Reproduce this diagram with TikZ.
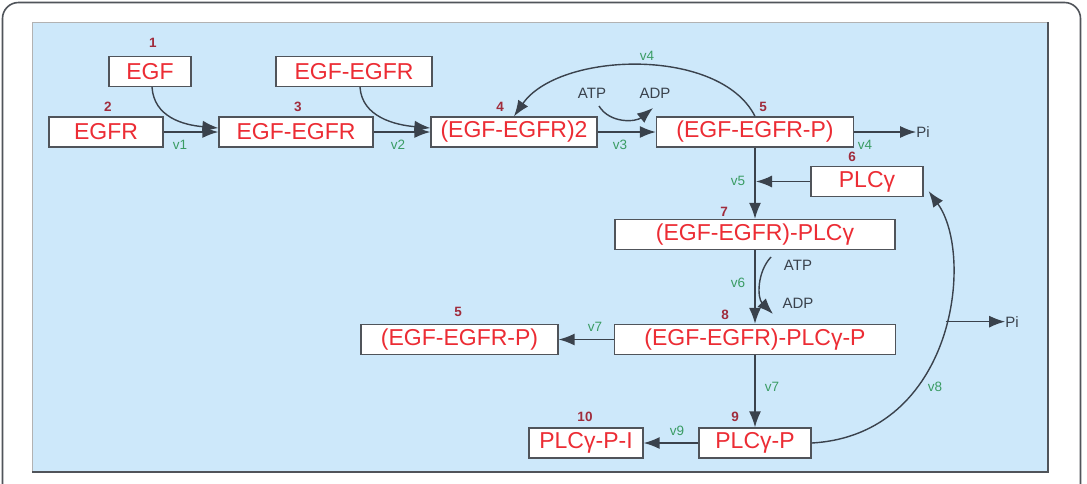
\documentclass[tikz,border=0pt]{standalone}
\usepackage{fontspec}
\setmainfont{Liberation Sans}
\usetikzlibrary{arrows.meta}
\definecolor{bgblue}{RGB}{205,232,250}
\definecolor{boxred}{RGB}{236,44,52}
\definecolor{numred}{RGB}{160,44,60}
\definecolor{vgreen}{RGB}{58,156,100}
\definecolor{linegray}{RGB}{58,66,76}
\definecolor{framegray}{RGB}{80,84,90}

\begin{document}
\begin{tikzpicture}[x=1pt,y=-1pt,
  species/.style={draw=framegray, line width=1.3pt, fill=white, text=boxred,
    font=\fontsize{23}{24}\selectfont, minimum height=30pt, inner sep=0pt},
  idx/.style={text=numred, font=\bfseries\fontsize{13.5}{14}\selectfont, inner sep=0pt},
  rate/.style={text=vgreen, font=\fontsize{13.5}{14}\selectfont, inner sep=0pt},
  small/.style={text=linegray, font=\fontsize{15}{16}\selectfont, inner sep=0pt},
  flow/.style={draw=linegray, line width=1.4pt, -{Latex[length=16pt,width=12pt]}}]
  \useasboundingbox (0,0) rectangle (1087,483);
  \clip (0,0) rectangle (1087,483);
  %% frame and background
  \fill[white] (0,0) rectangle (1087,483);
  \draw[framegray, line width=1.6pt, rounded corners=16pt] (2.5,2.5) rectangle (1080.5,520);
  \fill[bgblue] (32,22) rectangle (1048,472);
  \draw[gray!60, line width=0.8pt] (32,472) -- (32,22) -- (1048,22);
  \draw[framegray, line width=1.3pt] (32,472) -- (1048,472) -- (1048,22);
  %% species
  \node[species, minimum width=82] (egf) at (150,71.5) {EGF};
  \node[species, minimum width=156] (cplxtop) at (354,71.5) {EGF-EGFR};
  \node[species, minimum width=114] (egfr) at (106,132) {EGFR};
  \node[species, minimum width=154] (cplx) at (296,132) {EGF-EGFR};
  \node[species, minimum width=166] (dimer) at (514,132) {(EGF-EGFR)2};
  \node[species, minimum width=197] (phos) at (755,132) {(EGF-EGFR-P)};
  \node[species, minimum width=112] (plc) at (867,181.5) {PLCγ};
  \node[species, minimum width=280] (cplxplc) at (755,234.5) {(EGF-EGFR)-PLCγ};
  \node[species, minimum width=281] (cplxplcp) at (755,339.5) {(EGF-EGFR)-PLCγ-P};
  \node[species, minimum width=197] (phosb) at (459.5,339.5) {(EGF-EGFR-P)};
  \node[species, minimum width=112] (plcp) at (755,443) {PLCγ-P};
  \node[species, minimum width=114] (plcpi) at (586,443) {PLCγ-P-I};
  %% species numbers
  \node[idx] (n1) at (153,43) {1};
  \node[idx] (n2) at (108,107) {2};
  \node[idx] (n3) at (298,107) {3};
  \node[idx] (n4) at (500,107) {4};
  \node[idx] (n5) at (763,107) {5};
  \node[idx] (n6) at (852,157) {6};
  \node[idx] (n7) at (724,212) {7};
  \node[idx] (n8) at (725,315) {8};
  \node[idx] (n5b) at (458,312) {5};
  \node[idx] (n9) at (735,417) {9};
  \node[idx] (n10) at (585,417) {10};
  %% cofactors
  \node[small] (atp1) at (592,93) {ATP};
  \node[small] (adp1) at (655,93) {ADP};
  \node[small] (atp2) at (798,265) {ATP};
  \node[small] (adp2) at (798,303) {ADP};
  \node[small] (pi1) at (923,132) {Pi};
  \node[small] (pi2) at (1012,322) {Pi};
  %% rates
  \node[rate] (v1) at (180,145) {v1};
  \node[rate] (v2) at (398,145) {v2};
  \node[rate] (v3) at (620,145) {v3};
  \node[rate] (v4a) at (865,145) {v4};
  \node[rate] (v4b) at (647,56) {v4};
  \node[rate] (v5) at (738,181) {v5};
  \node[rate] (v6) at (738,283) {v6};
  \node[rate] (v7a) at (595,327) {v7};
  \node[rate] (v7b) at (772,387) {v7};
  \node[rate] (v8) at (935,387) {v8};
  \node[rate] (v9) at (677,431) {v9};
  \coordinate (atpout1) at (599,106);
  \coordinate (adpin1) at (653,108);
  \coordinate (atpout2) at (771,257);
  \coordinate (adpin2) at (773,314);
  %% reactions
  \draw[flow] (egfr) -- (cplx);
  \draw[flow] ([xshift=2pt]egf.south) .. controls +(2,30) and +(-35,-3) .. ([yshift=4pt]cplx.west);
  \draw[flow] (cplx) -- (dimer);
  \draw[flow] ([xshift=6pt]cplxtop.south) .. controls +(2,30) and +(-35,-3) .. ([yshift=4pt]dimer.west);
  \draw[flow] (dimer) -- (phos);
  \draw[flow] (atpout1) .. controls (610,124) and (636,122) .. (adpin1);
  \draw[flow] (phos) -- (pi1);
  \draw[flow] (phos.north) .. controls +(-35,-70) and +(45,-65) .. (dimer.north);
  \draw[flow] (phos) -- (cplxplc);
  \draw[flow, shorten >=1pt] (plc) -- (plc -| phos.south);
  \draw[flow] (cplxplc) -- (cplxplcp);
  \draw[flow] (atpout2) .. controls (757,272) and (757,298) .. (adpin2);
  \draw[flow] (cplxplcp) -- (phosb);
  \draw[flow] (cplxplcp) -- (plcp);
  \draw[flow] (plcp) -- (plcpi);
  \draw[flow] (plcp.east) .. controls (955,435) and (975,255) .. ([xshift=5pt,yshift=6pt]plc.south east)
    coordinate[pos=0.55] (v8mid);
  \draw[flow] (v8mid) -- (v8mid -| pi2.west);
\end{tikzpicture}
\end{document}
